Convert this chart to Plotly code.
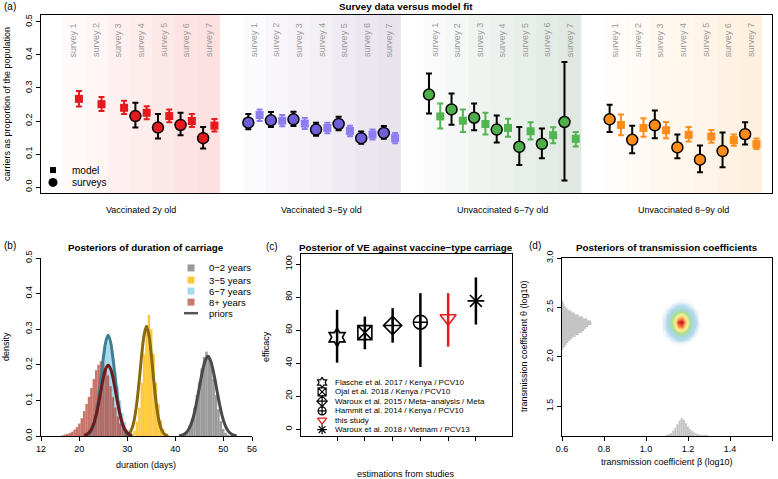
import numpy as np
import plotly.graph_objects as go

W, H = 778, 479
FONT = "Liberation Sans, Arial, Helvetica, sans-serif"


def px(x):
    return x / W


def py(y):
    return 1 - y / H

# ---------------- Panel (a) data ----------------
groups = ["Vaccinated 2y old", "Vaccinated 3−5y old", "Unvaccinated 6−7y old", "Unvaccinated 8−9y old"]
survey_labels = ["survey 1", "survey 2", "survey 3", "survey 4", "survey 5", "survey 6", "survey 7"]

surv_mid = [
    [None, None, None, 0.215, 0.180, 0.188, 0.148],
    [0.195, 0.202, 0.205, 0.174, 0.191, 0.148, 0.164],
    [0.280, 0.235, 0.210, 0.174, 0.122, 0.131, 0.197],
    [0.205, 0.143, 0.187, 0.120, 0.083, 0.109, 0.160],
]
surv_hi = [
    [None, None, None, 0.255, 0.221, 0.225, 0.182],
    [0.221, 0.227, 0.228, 0.195, 0.213, 0.168, 0.185],
    [0.344, 0.283, 0.253, 0.217, 0.182, 0.177, 0.379],
    [0.249, 0.186, 0.232, 0.159, 0.126, 0.165, 0.196],
]
surv_lo = [
    [None, None, None, 0.180, 0.147, 0.157, 0.117],
    [0.175, 0.182, 0.185, 0.155, 0.172, 0.131, 0.146],
    [0.223, 0.189, 0.172, 0.135, 0.067, 0.087, 0.020],
    [0.167, 0.102, 0.148, 0.087, 0.045, 0.060, 0.129],
]
model_mid = [
    [0.267, 0.251, 0.240, 0.225, 0.215, 0.200, 0.186],
    [0.218, 0.201, 0.192, 0.179, 0.170, 0.159, 0.148],
    [0.214, 0.201, 0.191, 0.179, 0.169, 0.157, 0.146],
    [0.188, 0.179, 0.172, 0.158, 0.153, 0.142, 0.130],
]
model_hi = [
    [0.291, 0.273, 0.261, 0.245, 0.235, 0.221, 0.206],
    [0.235, 0.218, 0.209, 0.195, 0.186, 0.174, 0.164],
    [0.253, 0.235, 0.225, 0.207, 0.196, 0.181, 0.167],
    [0.220, 0.208, 0.197, 0.182, 0.173, 0.159, 0.147],
]
model_lo = [
    [0.244, 0.230, 0.221, 0.205, 0.196, 0.182, 0.168],
    [0.200, 0.184, 0.176, 0.163, 0.154, 0.144, 0.133],
    [0.177, 0.167, 0.159, 0.152, 0.144, 0.133, 0.123],
    [0.157, 0.152, 0.148, 0.138, 0.134, 0.125, 0.115],
]
surv_colors = ["#e41a1c", "#6f5fd6", "#4daf4a", "#ff8c1a"]
model_colors = ["#e41a1c", "#8c7ef0", "#52b552", "#ff8c1a"]
shade_rgb = [(240, 60, 60), (120, 80, 150), (60, 110, 70), (250, 160, 50)]

# ---------------- Panel (b) data ----------------
post_names = ["0−2 years", "3−5 years", "6−7 years", "8+ years"]
post_x = [
    [41.5, 42, 42.5, 43, 43.5, 44, 44.5, 45, 45.5, 46, 46.5, 47, 47.5, 48, 48.5, 49, 49.5, 50, 50.5, 51],
    [31, 31.5, 32, 32.5, 33, 33.5, 34, 34.5, 35, 35.5, 36, 36.5, 37, 37.5, 38, 38.5],
    [21, 21.5, 22, 22.5, 23, 23.5, 24, 24.5, 25, 25.5, 26, 26.5, 27, 27.5, 28, 28.5, 29, 29.5, 30, 30.5, 31],
    [16.5, 17, 17.5, 18, 18.5, 19, 19.5, 20, 20.5, 21, 21.5, 22, 22.5, 23, 23.5, 24, 24.5, 25, 25.5, 26,
     26.5, 27, 27.5, 28, 28.5, 29, 29.5, 30],
]
post_y = [
    [0.003, 0.008, 0.015, 0.03, 0.05, 0.08, 0.115, 0.15, 0.19, 0.222, 0.237, 0.226, 0.2, 0.16, 0.115, 0.075,
     0.042, 0.02, 0.009, 0.003],
    [0.005, 0.015, 0.04, 0.08, 0.15, 0.23, 0.30, 0.34, 0.30, 0.23, 0.15, 0.09, 0.045, 0.02, 0.008, 0.003],
    [0.005, 0.01, 0.02, 0.035, 0.06, 0.09, 0.13, 0.18, 0.22, 0.25, 0.265, 0.25, 0.22, 0.18, 0.14, 0.10,
     0.065, 0.04, 0.02, 0.01, 0.004],
    [0.002, 0.004, 0.006, 0.008, 0.012, 0.018, 0.025, 0.035, 0.05, 0.07, 0.09, 0.11, 0.135, 0.16, 0.185,
     0.2, 0.21, 0.205, 0.19, 0.17, 0.14, 0.11, 0.08, 0.055, 0.035, 0.02, 0.01, 0.005],
]
post_colors = ["rgba(120,120,120,0.75)", "rgba(255,185,15,0.8)", "rgba(135,206,235,0.75)",
               "rgba(180,70,55,0.75)"]
legend_sq_colors = ["#9a9a9a", "#fcc640", "#a6daf0", "#c8786c"]

prior_x = [
    [40.8, 41.3, 41.8, 42.3, 42.8, 43.3, 43.8, 44.3, 44.8, 45.3, 45.8, 46.3, 46.8, 47.3, 47.8, 48.3, 48.8,
     49.3, 49.8, 50.3, 50.8, 51.3, 51.8, 52.3, 52.8],
    [29.5, 30, 30.5, 31, 31.5, 32, 32.5, 33, 33.5, 34, 34.5, 35, 35.5, 36, 36.5, 37, 37.5, 38, 38.5],
    [21, 21.5, 22, 22.5, 23, 23.5, 24, 24.5, 25, 25.5, 26, 26.5, 27, 27.5, 28, 28.5, 29, 29.5, 30, 30.5, 31],
    [21, 21.5, 22, 22.5, 23, 23.5, 24, 24.5, 25, 25.5, 26, 26.5, 27, 27.5, 28, 28.5, 29, 29.5, 30, 30.5, 31],
]
prior_y = [
    [0.0009, 0.0021, 0.0047, 0.0098, 0.0188, 0.0335, 0.0554, 0.0847, 0.120, 0.157, 0.190, 0.2136, 0.224,
     0.2136, 0.190, 0.157, 0.120, 0.0847, 0.0554, 0.0335, 0.0188, 0.0098, 0.0047, 0.0021, 0.0009],
    [0.0008, 0.0029, 0.0086, 0.0222, 0.0494, 0.0951, 0.158, 0.228, 0.2836, 0.308, 0.2836, 0.228, 0.158,
     0.0951, 0.0494, 0.0222, 0.0086, 0.0029, 0.0008],
    [0.0006, 0.0019, 0.0053, 0.0135, 0.0302, 0.0596, 0.104, 0.161, 0.219, 0.264, 0.283, 0.264, 0.219, 0.161,
     0.104, 0.0596, 0.0302, 0.0135, 0.0053, 0.0019, 0.0006],
    [0.0015, 0.0038, 0.0087, 0.0182, 0.0343, 0.059, 0.091, 0.128, 0.164, 0.189, 0.199, 0.189, 0.164, 0.128,
     0.091, 0.059, 0.0343, 0.0182, 0.0087, 0.0038, 0.0015],
]
prior_colors = ["#4a4a4a", "#8a6a10", "#3f7f90", "#6b1c1c"]

# ---------------- Panel (c) data ----------------
studies = ["Flasche et al. 2017 / Kenya / PCV10", "Ojal et al. 2018 / Kenya / PCV10",
           "Waroux et al. 2015 / Meta−analysis / Meta", "Hammit et al. 2014 / Kenya / PCV10",
           "this study", "Waroux et al. 2018 / Vietnam / PCV13"]
ve_mid = [55.7, 58.5, 62.8, 64.8, 67.2, 77.7]
ve_lo = [40.3, 48.4, 52.4, 37.7, 50.0, 63.4]
ve_hi = [72.3, 68.2, 73.3, 82.4, 82.4, 91.9]
ve_symbols = ["hexagram-open", "square-x-open", "diamond-cross-open", "circle-cross-open",
              "triangle-down-open", "asterisk-open"]
ve_colors = ["black", "black", "black", "black", "#e41a1c", "black"]

# ---------------- Panel (d) data ----------------
beta_grid = [1.09, 1.11, 1.13, 1.15, 1.17, 1.19, 1.21, 1.23, 1.25, 1.27]
theta_grid = [2.10, 2.15, 2.20, 2.25, 2.30, 2.35, 2.40, 2.45, 2.50, 2.55]
dens2d = [
    [0.00, 0.00, 0.00, 0.00, 0.00, 0.00, 0.00, 0.00, 0.00, 0.00],
    [0.00, 0.01, 0.02, 0.03, 0.03, 0.02, 0.01, 0.00, 0.00, 0.00],
    [0.01, 0.03, 0.08, 0.14, 0.15, 0.11, 0.05, 0.01, 0.00, 0.00],
    [0.02, 0.08, 0.23, 0.40, 0.44, 0.32, 0.15, 0.04, 0.01, 0.00],
    [0.04, 0.16, 0.42, 0.74, 0.82, 0.59, 0.27, 0.08, 0.02, 0.00],
    [0.04, 0.19, 0.50, 0.90, 0.98, 0.71, 0.32, 0.10, 0.02, 0.00],
    [0.03, 0.14, 0.39, 0.67, 0.75, 0.54, 0.25, 0.07, 0.01, 0.00],
    [0.02, 0.07, 0.19, 0.33, 0.37, 0.27, 0.12, 0.04, 0.01, 0.00],
    [0.01, 0.02, 0.06, 0.10, 0.12, 0.08, 0.04, 0.01, 0.00, 0.00],
    [0.00, 0.00, 0.01, 0.02, 0.02, 0.02, 0.01, 0.00, 0.00, 0.00],
]
beta_marg_x = [1.10, 1.11, 1.12, 1.13, 1.14, 1.15, 1.16, 1.17, 1.18, 1.19, 1.20, 1.21, 1.22, 1.23, 1.24,
               1.25, 1.26, 1.27, 1.28, 1.29]
beta_marg_h = [0.004, 0.012, 0.03, 0.055, 0.085, 0.12, 0.155, 0.18, 0.165, 0.13, 0.095, 0.07, 0.05, 0.035,
               0.025, 0.017, 0.01, 0.006, 0.003, 0.001]
theta_marg_y = [2.08, 2.10, 2.12, 2.14, 2.16, 2.18, 2.20, 2.22, 2.24, 2.26, 2.28, 2.30, 2.32, 2.34, 2.36,
                2.38, 2.40, 2.42, 2.44, 2.46, 2.48, 2.50, 2.52, 2.54, 2.56]
theta_marg_h = [0.003, 0.008, 0.015, 0.022, 0.03, 0.04, 0.05, 0.065, 0.08, 0.095, 0.105, 0.115, 0.125, 0.14,
                0.138, 0.12, 0.10, 0.08, 0.06, 0.045, 0.03, 0.02, 0.012, 0.006, 0.002]

fig = go.Figure()
annotations = []
shapes = []


def ann(**kw):
    kw.setdefault("showarrow", False)
    kw.setdefault("xanchor", "center")
    kw.setdefault("yanchor", "middle")
    annotations.append(kw)


# ---------- Panel (a) ----------
for g in range(4):
    base = 8 * g
    r, gg, b = shade_rgb[g]
    for c in range(7):
        shapes.append(dict(type="rect", xref="x", yref="y domain", x0=base + c, x1=base + c + 1, y0=0, y1=1,
                           fillcolor=f"rgba({r},{gg},{b},{0.03 + 0.022 * c:.3f})", line=dict(width=0),
                           layer="below"))
        ann(xref="x", yref="y", x=base + c + 0.5, y=0.445, text=survey_labels[c], textangle=-90,
            font=dict(size=9, color="#9a9a9a"))
    ann(xref="x", yref="paper", x=base + 3.5, y=py(210), text=groups[g], font=dict(size=9, color="black"))
    mx = [base + c + 0.75 for c in range(7)]
    fig.add_trace(go.Scatter(
        x=mx, y=model_mid[g], mode="markers", xaxis="x", yaxis="y",
        marker=dict(symbol="square", size=8, color=model_colors[g]),
        error_y=dict(type="data", array=[h - m for h, m in zip(model_hi[g], model_mid[g])],
                     arrayminus=[m - l for m, l in zip(model_mid[g], model_lo[g])],
                     color=model_colors[g], thickness=2, width=3)))
    idx = [c for c in range(7) if surv_mid[g][c] is not None]
    fig.add_trace(go.Scatter(
        x=[base + c + 0.25 for c in idx], y=[surv_mid[g][c] for c in idx], mode="markers",
        xaxis="x", yaxis="y",
        marker=dict(symbol="circle", size=11, color=surv_colors[g], line=dict(color="black", width=1.5)),
        error_y=dict(type="data", array=[surv_hi[g][c] - surv_mid[g][c] for c in idx],
                     arrayminus=[surv_mid[g][c] - surv_lo[g][c] for c in idx],
                     color="black", thickness=2, width=3)))

# legend of panel (a)
fig.add_trace(go.Scatter(x=[-0.40], y=[0.0515], mode="markers", xaxis="x", yaxis="y",
                         marker=dict(symbol="square", size=6, color="black")))
fig.add_trace(go.Scatter(x=[-0.40], y=[0.014], mode="markers", xaxis="x", yaxis="y",
                         marker=dict(symbol="circle", size=9, color="black")))
ann(xref="x", yref="y", x=0.35, y=0.0515, text="model", xanchor="left", font=dict(size=10))
ann(xref="x", yref="y", x=0.35, y=0.014, text="surveys", xanchor="left", font=dict(size=10))

# ---------- Panel (b) ----------
for i in range(4):
    fig.add_trace(go.Bar(x=post_x[i], y=post_y[i], width=0.5, xaxis="x2", yaxis="y2",
                         marker=dict(color=post_colors[i], line=dict(width=0))))
for i in range(4):
    fig.add_trace(go.Scatter(x=prior_x[i], y=prior_y[i], mode="lines", xaxis="x2", yaxis="y2",
                             line=dict(color=prior_colors[i], width=3, shape="spline")))
leg_b_y = [0.472, 0.438, 0.407, 0.376]
for i in range(4):
    fig.add_trace(go.Scatter(x=[43.28], y=[leg_b_y[i]], mode="markers", xaxis="x2", yaxis="y2",
                             marker=dict(symbol="square", size=7, color=legend_sq_colors[i])))
    ann(xref="x2", yref="y2", x=46.62, y=leg_b_y[i], text=post_names[i], xanchor="left", font=dict(size=9.5))
fig.add_trace(go.Scatter(x=[41.82, 44.74], y=[0.345, 0.345], mode="lines", xaxis="x2", yaxis="y2",
                         line=dict(color="#555555", width=2.5)))
ann(xref="x2", yref="y2", x=46.62, y=0.345, text="priors", xanchor="left", font=dict(size=9.5))

# ---------- Panel (c) ----------
for i in range(6):
    fig.add_trace(go.Scatter(
        x=[i + 1], y=[ve_mid[i]], mode="markers", xaxis="x3", yaxis="y3",
        marker=dict(symbol=ve_symbols[i], size=14, color=ve_colors[i], line=dict(width=1.6, color=ve_colors[i])),
        error_y=dict(type="data", array=[ve_hi[i] - ve_mid[i]], arrayminus=[ve_mid[i] - ve_lo[i]],
                     color=ve_colors[i], thickness=2.5, width=0)))
leg_c_y = [28.3, 22.6, 17.0, 11.1, 5.5, -0.2]
for i in range(6):
    fig.add_trace(go.Scatter(x=[0.46], y=[leg_c_y[i]], mode="markers", xaxis="x3", yaxis="y3",
                             marker=dict(symbol=ve_symbols[i], size=8, color=ve_colors[i],
                                         line=dict(width=1.2, color=ve_colors[i]))))
    ann(xref="x3", yref="y3", x=0.87, y=leg_c_y[i], text=studies[i], xanchor="left", font=dict(size=8))

# ---------- Panel (d) ----------
fig.add_trace(go.Heatmap(
    x=beta_grid, y=theta_grid, z=dens2d, xaxis="x4", yaxis="y4", zsmooth="best", zmin=0, zmax=1,
    showscale=False, hoverinfo="skip",
    colorscale=[[0.0, "rgba(255,255,255,0)"], [0.03, "rgba(205,228,243,0.6)"], [0.08, "#b3d9ee"],
                [0.2, "#a9d8d6"], [0.35, "#aedc8e"], [0.5, "#e8f293"], [0.62, "#fee68b"],
                [0.75, "#fdae61"], [0.88, "#e8452c"], [1.0, "#a50026"]]))
fig.add_trace(go.Bar(y=theta_marg_y, x=theta_marg_h, base=0.6, orientation="h", width=0.02,
                     xaxis="x4", yaxis="y4", marker=dict(color="#c4c4c4", line=dict(width=0))))
fig.add_trace(go.Bar(x=beta_marg_x, y=beta_marg_h, base=1.2, width=0.01,
                     xaxis="x4", yaxis="y4", marker=dict(color="#c4c4c4", line=dict(width=0))))

# ---------- Titles / labels ----------
bold = dict(size=9.8, color="black")
ann(xref="paper", yref="paper", x=px(406), y=py(7), text="<b>Survey data versus model fit</b>", font=bold)
ann(xref="paper", yref="paper", x=px(146), y=py(247), text="<b>Posteriors of duration of carriage</b>", font=bold)
ann(xref="paper", yref="paper", x=px(406), y=py(247),
    text="<b>Posterior of VE against vaccine−type carriage</b>", font=bold)
ann(xref="paper", yref="paper", x=px(667), y=py(247), text="<b>Posteriors of transmission coefficients</b>",
    font=bold)
ann(xref="paper", yref="paper", x=px(2), y=py(7), text="(a)", xanchor="left", font=dict(size=10))
ann(xref="paper", yref="paper", x=px(2), y=py(245), text="(b)", xanchor="left", font=dict(size=10))
ann(xref="paper", yref="paper", x=px(264), y=py(246), text="(c)", xanchor="left", font=dict(size=10))
ann(xref="paper", yref="paper", x=px(527), y=py(245), text="(d)", xanchor="left", font=dict(size=10))
ann(xref="paper", yref="paper", x=px(7), y=py(104), text="carriers as proportion of the population",
    textangle=-90, font=dict(size=9))
ann(xref="paper", yref="paper", x=px(6), y=py(347), text="density", textangle=-90, font=dict(size=9))
ann(xref="paper", yref="paper", x=px(146), y=py(465), text="duration (days)", font=dict(size=9))
ann(xref="paper", yref="paper", x=px(266), y=py(347), text="efficacy", textangle=-90, font=dict(size=9))
ann(xref="paper", yref="paper", x=px(406), y=py(474), text="estimations from studies", font=dict(size=9))
ann(xref="paper", yref="paper", x=px(524), y=py(347), text="transmission coefficient θ (log10)",
    textangle=-90, font=dict(size=9))
ann(xref="paper", yref="paper", x=px(667), y=py(462), text="transmission coefficient β (log10)",
    font=dict(size=9))

axis_common = dict(showgrid=False, zeroline=False, showline=True, linecolor="black", linewidth=1,
                   ticks="outside", ticklen=4, tickcolor="black", tickfont=dict(size=9, color="black"),
                   automargin=False)

fig.update_layout(
    template="none",
    width=W, height=H, autosize=False, margin=dict(l=0, r=0, t=0, b=0, pad=0),
    paper_bgcolor="white", plot_bgcolor="rgba(0,0,0,0)", showlegend=False, barmode="overlay",
    font=dict(family=FONT, color="black"),
    annotations=annotations, shapes=shapes,
    xaxis=dict(axis_common, domain=[px(41), px(772)], range=[-0.93, 31.44], showticklabels=False,
               ticks="", mirror=True, anchor="y"),
    yaxis=dict(axis_common, domain=[py(193), py(15)], range=[-0.018, 0.521],
               tickvals=[0, 0.1, 0.2, 0.3, 0.4, 0.5], ticktext=["0.0", "0.1", "0.2", "0.3", "0.4", "0.5"],
               tickangle=-90, mirror=True, anchor="x"),
    xaxis2=dict(axis_common, domain=[px(41), px(252)], range=[12, 56], tickvals=[12, 20, 30, 40, 50, 56],
                anchor="y2"),
    yaxis2=dict(axis_common, domain=[py(436), py(258)], range=[0, 0.5],
                tickvals=[0, 0.1, 0.2, 0.3, 0.4, 0.5], ticktext=["0.0", "0.1", "0.2", "0.3", "0.4", "0.5"],
                tickangle=-90, anchor="x2"),
    xaxis3=dict(axis_common, domain=[px(301), px(512)], range=[-0.3, 7.3], tickvals=[1, 2, 3, 4, 5, 6],
                ticktext=["", "", "", "", "", ""], mirror=True, anchor="y3"),
    yaxis3=dict(axis_common, domain=[py(436), py(254)], range=[-4.1, 106.1],
                tickvals=[0, 20, 40, 60, 80, 100], tickangle=-90, mirror=True, anchor="x3"),
    xaxis4=dict(axis_common, domain=[px(562), px(772)], range=[0.6, 1.6],
                tickvals=[0.6, 0.8, 1.0, 1.2, 1.4, 1.6], ticktext=["0.6", "0.8", "1.0", "1.2", "1.4", "1.6"],
                mirror=True, anchor="y4"),
    yaxis4=dict(axis_common, domain=[py(436), py(258)], range=[1.2, 3.0],
                tickvals=[1.5, 2.0, 2.5, 3.0], ticktext=["1.5", "2.0", "2.5", "3.0"], tickangle=-90,
                mirror=True, anchor="x4"),
)

fig.write_html("out.html", config={"displayModeBar": False},
               post_script="document.body.style.margin='0px';")
